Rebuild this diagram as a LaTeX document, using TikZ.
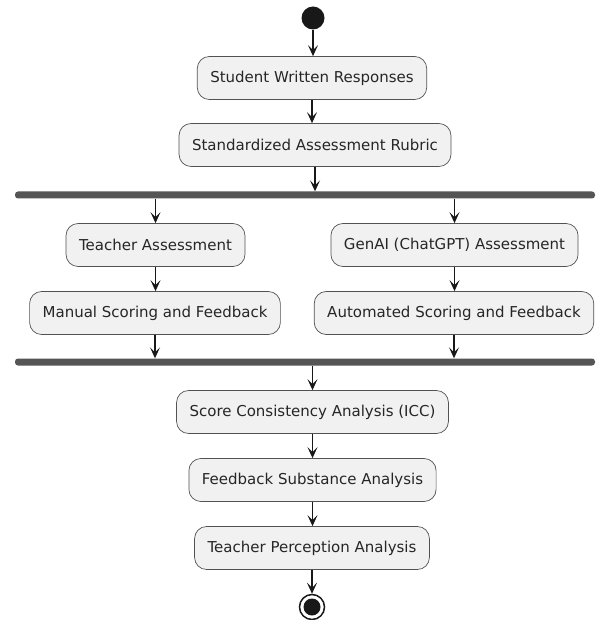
\documentclass[tikz,border=0pt]{standalone}
\usepackage{fontspec}
\setmainfont{DejaVu Sans}
\usetikzlibrary{arrows.meta,positioning}
\definecolor{boxfill}{HTML}{F1F1F1}
\definecolor{boxline}{HTML}{181818}
\definecolor{barfill}{HTML}{555555}

\begin{document}
\begin{tikzpicture}[x=1pt,y=-1pt,
    action/.style={draw=boxline!75,line width=0.7pt,fill=boxfill,rounded corners=12pt,minimum height=43pt,inner xsep=13pt,font=\fontsize{15}{18}\selectfont,text=black!85},
    syncbar/.style={fill=barfill,rounded corners=3pt,minimum width=580pt,minimum height=7pt,inner sep=0pt},
    flow/.style={-{Stealth[length=11pt,width=10pt,inset=5pt]},line width=1.2pt,draw=boxline},
    startdot/.style={circle,fill=boxline,minimum size=23pt,inner sep=0pt},
    enddot/.style={circle,draw=boxline,line width=1.5pt,minimum size=25pt,inner sep=0pt,
        path picture={\fill[boxline] (path picture bounding box.center) circle (8.5pt);}}]
    \useasboundingbox (0,0) rectangle (595,620);
    % activity flow: grading by teacher vs. GenAI
    \node[startdot] (start) at (313,18) {};
    \node[action] (resp) at (312,78) {Student Written Responses};
    \node[action] (rubric) at (315,145) {Standardized Assessment Rubric};
    \node[syncbar] (fork) at (305,195) {};

    \node[action] (teach) at (155.5,245) {Teacher Assessment};
    \node[action] (manual) at (155,313) {Manual Scoring and Feedback};
    \node[action] (genai) at (454.5,245) {GenAI (ChatGPT) Assessment};
    \node[action] (auto) at (454,313) {Automated Scoring and Feedback};

    \node[syncbar] (join) at (305,362) {};
    \node[action] (icc) at (312.5,412) {Score Consistency Analysis (ICC)};
    \node[action] (subst) at (312.5,480) {Feedback Substance Analysis};
    \node[action] (percep) at (312,548) {Teacher Perception Analysis};
    \node[enddot] (stop) at (312,607) {};

    \draw[flow] (start) -- (start |- resp.north);
    \draw[flow] (resp) -- (resp |- rubric.north);
    \draw[flow] (rubric) -- (rubric |- fork.north);
    \draw[flow] (fork.south -| teach) -- (teach);
    \draw[flow] (fork.south -| genai) -- (genai);
    \draw[flow] (teach) -- (teach |- manual.north);
    \draw[flow] (genai) -- (genai |- auto.north);
    \draw[flow] (manual) -- (manual |- join.north);
    \draw[flow] (auto) -- (auto |- join.north);
    \draw[flow] (join.south -| icc) -- (icc);
    \draw[flow] (icc) -- (icc |- subst.north);
    \draw[flow] (subst) -- (subst |- percep.north);
    \draw[flow] (percep) -- (percep |- stop.north);
\end{tikzpicture}
\end{document}
